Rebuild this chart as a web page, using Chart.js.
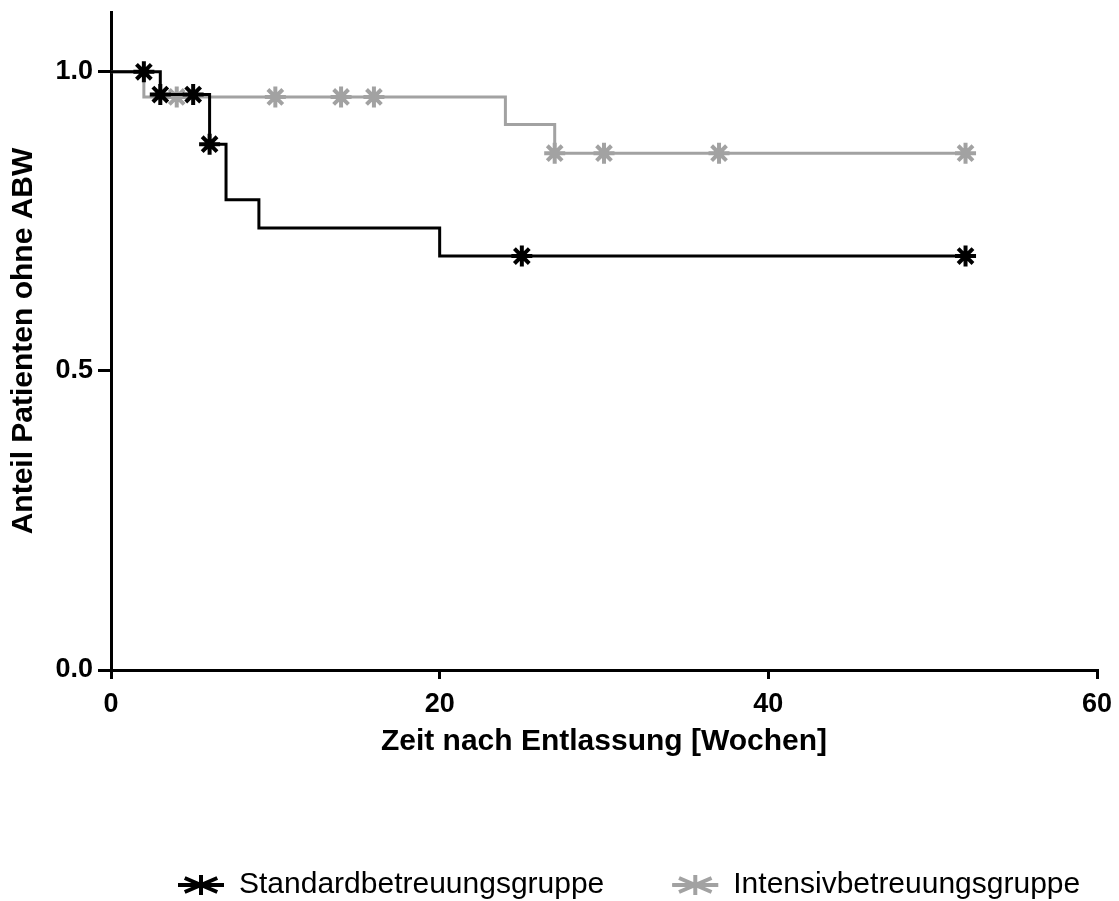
<!DOCTYPE html>
<html>
<head>
<meta charset="utf-8">
<script src="https://cdn.jsdelivr.net/npm/chart.js@4/dist/chart.umd.min.js"></script>
<style>
  html, body { margin: 0; padding: 0; background: #fff; }
  canvas { display: block; }
</style>
</head>
<body>
<canvas id="c" width="1119" height="901"></canvas>
<script>
// ---- data ----
const seriesNames = ['Standardbetreuungsgruppe', 'Intensivbetreuungsgruppe'];

const stdTimes    = [0, 2, 3, 3, 5, 6, 6, 7, 9, 20, 25, 52];
const stdSurv     = [1, 1, 0.962, 0.962, 0.962, 0.879, 0.879, 0.786, 0.739, 0.692, 0.692, 0.692];
const stdCensored = [0, 1, 0, 1, 1, 0, 1, 0, 0, 0, 1, 1];

const intTimes    = [0, 2, 4, 10, 14, 16, 24, 27, 27, 30, 37, 52];
const intSurv     = [1, 0.958, 0.958, 0.958, 0.958, 0.958, 0.912, 0.864, 0.864, 0.864, 0.864, 0.864];
const intCensored = [0, 0, 1, 1, 1, 1, 0, 0, 1, 1, 1, 1];

const xTicks = [0, 20, 40, 60];
const yTicks = [0, 0.5, 1.0];

const FONT = "'Liberation Sans', Arial, Helvetica, sans-serif";

function pts(t, s) { return t.map((x, i) => ({ x: x, y: s[i] })); }

function makeDataset(label, t, s, c, color) {
  return {
    label: label,
    data: pts(t, s),
    stepped: true,
    borderColor: color,
    backgroundColor: color,
    borderWidth: 3,
    fill: false,
    pointStyle: 'star',
    pointRadius: c.map(v => v ? 10.5 : 0),
    pointHoverRadius: c.map(v => v ? 10.5 : 0),
    pointBorderWidth: 4,
    pointBorderColor: color,
    pointBackgroundColor: color
  };
}

const legendPlacer = {
  id: 'legendPlacer',
  afterLayout(chart) {
    const lg = chart.legend;
    if (!lg || !lg.lineWidths) return;
    const p = lg.options.labels.padding;
    const start = (lg.left + p + lg.right - lg.lineWidths[0]) / 2;
    const dx = 178 - start;
    lg.left += dx; lg.right += dx;
    const dy = 802 - lg.top;
    lg.top += dy; lg.bottom += dy;
  },
  afterDraw(chart) {
    const lg = chart.legend;
    if (!lg || !lg.legendHitBoxes) return;
    const ctx = chart.ctx;
    const fs = lg.options.labels.font.size;
    lg.legendHitBoxes.forEach((hb, i) => {
      const item = lg.legendItems[i];
      const cy = hb.top + fs / 2;
      ctx.save();
      ctx.strokeStyle = item.strokeStyle;
      ctx.lineWidth = 3;
      ctx.beginPath();
      ctx.moveTo(hb.left, cy);
      ctx.lineTo(hb.left + 42, cy);
      ctx.stroke();
      ctx.restore();
    });
  }
};

new Chart(document.getElementById('c'), {
  type: 'line',
  data: {
    datasets: [
      makeDataset(seriesNames[0], stdTimes, stdSurv, stdCensored, '#000000'),
      makeDataset(seriesNames[1], intTimes, intSurv, intCensored, '#a2a2a2')
    ]
  },
  options: {
    responsive: false,
    animation: false,
    devicePixelRatio: 1,
    events: [],
    layout: { autoPadding: false, padding: { top: 12, right: 22, bottom: 0, left: 0 } },
    plugins: {
      tooltip: { enabled: false },
      legend: {
        display: true,
        position: 'bottom',
        align: 'center',
        labels: {
          usePointStyle: true,
          pointStyleWidth: 46,
          boxHeight: 14,
          padding: 68,
          color: '#000',
          font: { family: FONT, size: 30 }
        }
      }
    },
    scales: {
      x: {
        type: 'linear',
        min: 0, max: 60,
        afterBuildTicks: s => { s.ticks = xTicks.map(v => ({ value: v })); },
        afterFit: s => { s.height = 123; s.paddingLeft = 0; s.paddingRight = 0; },
        border: { display: true, color: '#000', width: 3 },
        grid: { display: true, drawOnChartArea: false, drawTicks: true, tickLength: 9, color: '#000', lineWidth: 3 },
        ticks: {
          color: '#000', padding: 9,
          font: { family: FONT, size: 27, weight: 'bold' },
          callback: v => String(v)
        },
        title: {
          display: true,
          text: 'Zeit nach Entlassung [Wochen]',
          color: '#000',
          font: { family: FONT, size: 30, weight: 'bold' },
          padding: { top: 4, bottom: 33 }
        }
      },
      y: {
        type: 'linear',
        min: 0, max: 1.1,
        afterBuildTicks: s => { s.ticks = yTicks.map(v => ({ value: v })); },
        afterFit: s => { s.width = 111; s.paddingTop = 0; s.paddingBottom = 0; },
        border: { display: true, color: '#000', width: 3 },
        grid: { display: true, drawOnChartArea: false, drawTicks: true, tickLength: 13, color: '#000', lineWidth: 3 },
        ticks: {
          color: '#000', padding: 5,
          font: { family: FONT, size: 27, weight: 'bold' },
          callback: v => Number(v).toFixed(1)
        },
        title: {
          display: true,
          text: 'Anteil Patienten ohne ABW',
          color: '#000',
          font: { family: FONT, size: 30, weight: 'bold' },
          padding: { top: 6, bottom: 0 }
        }
      }
    }
  },
  plugins: [legendPlacer]
});
</script>
</body>
</html>
